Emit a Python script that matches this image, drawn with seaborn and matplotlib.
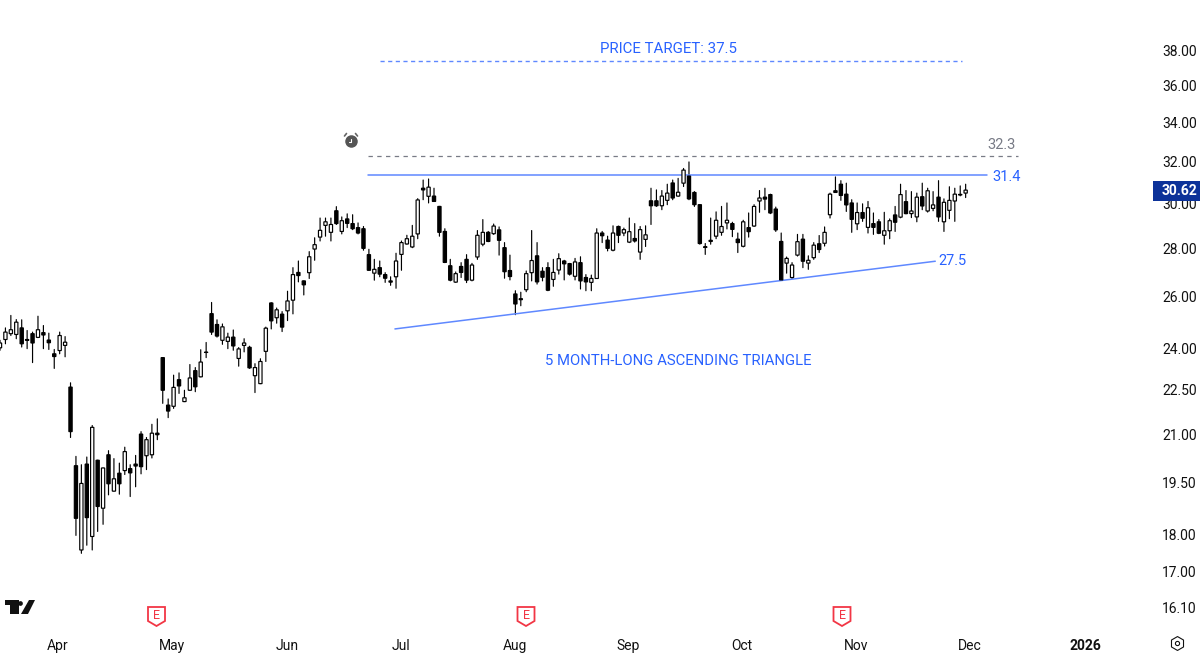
import numpy as np
import pandas as pd
import seaborn as sns
import matplotlib
matplotlib.use("Agg")
import matplotlib.pyplot as plt
from matplotlib.lines import Line2D
from matplotlib.patches import Polygon, Rectangle
from matplotlib.ticker import NullLocator

# daily prices
opens = [24.01,24.32,24.54,24.51,24.76,24.32,24.54,24.40,24.58,24.30,
         23.79,23.91,24.10,22.60,20.02,17.58,20.07,17.95,20.19,18.75,
         20.36,19.25,19.79,19.87,19.93,20.07,21.02,20.33,20.36,21.05,
         23.65,21.98,21.94,22.86,22.10,22.49,23.18,22.96,23.85,25.31,
         24.89,24.29,24.25,24.41,23.62,24.10,24.03,23.00,22.72,23.88,
         25.73,25.15,25.29,25.42,25.84,26.97,26.62,26.96,27.96,28.48,
         29.00,28.69,29.66,28.73,29.29,29.08,28.90,28.85,27.72,26.94,
         27.17,26.88,26.62,26.79,27.73,28.18,28.05,28.62,30.71,30.33,
         30.34,29.86,28.73,27.25,26.57,27.22,27.52,26.65,27.62,28.17,
         28.69,28.63,28.80,28.02,27.05,26.09,25.90,26.26,26.96,27.67,
         27.02,27.17,26.68,27.07,27.45,27.34,26.81,27.38,26.76,26.56,
         26.72,28.66,28.35,27.91,28.95,28.66,28.26,28.42,27.83,28.38,
         30.12,30.12,29.89,30.14,30.96,30.34,30.95,31.29,30.51,29.94,
         28.06,28.34,28.52,28.69,29.11,29.08,28.39,28.08,28.90,28.97,
         30.11,30.29,30.41,29.74,28.29,27.36,26.76,27.70,28.39,27.36,
         27.59,28.19,28.21,29.48,30.59,30.90,30.43,30.02,29.07,29.58,
         28.91,29.08,29.16,28.56,28.76,29.47,29.37,30.08,29.53,29.38,
         30.31,29.65,29.77,30.29,29.16,29.68,30.11,30.39,30.48]
highs = [24.29,24.76,25.24,25.08,25.07,24.66,24.60,25.21,24.85,24.56,
         23.95,24.60,24.43,22.75,20.31,20.05,20.29,21.30,20.19,19.95,
         20.49,20.24,20.10,20.60,20.05,20.34,21.10,20.91,21.34,21.52,
         23.65,22.19,23.02,23.10,22.49,23.40,23.29,23.94,24.21,25.75,
         25.07,24.91,24.56,24.68,24.02,24.35,24.07,23.43,23.61,24.79,
         25.74,25.53,25.39,26.20,27.17,27.45,26.62,27.85,28.45,29.33,
         29.33,29.33,29.85,29.38,29.52,29.48,29.11,28.95,27.95,27.52,
         27.45,26.96,26.79,27.78,28.31,28.56,29.00,30.22,31.10,31.15,
         30.71,29.86,28.85,27.52,26.99,27.38,27.72,27.35,28.77,29.26,
         28.73,29.06,28.93,28.24,27.70,26.22,26.16,27.03,28.77,28.24,
         27.17,27.38,27.52,27.76,27.48,27.35,27.56,27.63,26.88,26.86,
         28.85,28.73,28.52,28.98,28.97,28.88,29.33,29.08,28.95,28.98,
         30.71,30.63,30.60,30.90,31.10,31.18,31.66,31.98,30.55,29.94,
         28.20,29.33,29.61,29.86,30.02,29.14,28.66,29.23,29.56,29.94,
         30.60,30.71,30.43,29.83,28.66,27.62,27.38,28.60,28.60,27.67,
         28.24,28.55,28.93,30.48,31.25,31.07,30.95,30.17,30.02,29.98,
         30.09,29.56,29.26,29.59,29.29,29.86,30.90,30.60,30.55,30.48,
         30.95,30.71,30.55,31.07,30.21,30.78,30.71,30.82,30.90]
lows = [23.92,24.16,24.47,24.35,24.04,23.98,23.47,24.39,23.98,23.95,
        23.26,23.79,23.68,20.91,17.98,17.49,17.71,17.58,18.09,18.29,
        19.14,19.25,19.16,19.75,19.09,19.38,19.77,19.90,20.26,20.84,
        22.04,21.56,21.87,22.38,22.10,22.48,22.44,22.96,23.65,24.51,
        24.41,24.14,23.98,23.92,23.34,23.86,23.26,22.41,22.72,23.51,
        24.72,24.94,24.62,25.04,25.30,26.58,26.05,26.72,27.48,28.31,
        28.52,28.31,29.04,28.62,28.90,28.81,28.62,27.91,27.06,26.65,
        26.79,26.56,26.44,26.32,27.06,28.17,28.02,28.41,30.17,30.02,
        30.09,28.52,27.38,26.62,26.56,26.76,26.55,26.62,27.52,28.10,
        28.28,28.60,27.70,26.73,26.66,25.27,25.62,26.18,26.62,26.49,
        26.62,26.22,26.40,26.90,26.66,26.86,26.66,26.29,26.22,26.22,
        26.72,28.24,27.88,27.88,28.24,28.54,28.24,28.26,27.52,28.07,
        29.04,29.86,29.71,29.94,30.17,30.33,30.79,30.17,29.86,28.17,
        27.73,28.17,28.41,28.56,28.84,28.50,27.81,28.05,28.48,28.95,
        29.59,29.71,29.53,28.73,26.66,26.94,26.72,27.66,27.17,27.10,
        27.52,27.81,28.09,29.33,30.51,30.14,29.63,28.69,28.81,29.18,
        28.66,28.60,28.63,28.17,28.41,28.73,29.34,29.52,29.35,29.16,
        29.71,29.60,29.66,29.18,28.73,29.30,29.18,30.35,30.27]
closes = [24.19,24.60,24.69,24.98,24.16,24.29,24.19,24.69,24.49,24.20,
          23.69,24.47,24.22,21.10,18.46,19.48,18.48,21.24,18.80,19.95,
          19.47,19.62,19.47,20.46,19.80,20.01,19.99,20.84,21.05,21.00,
          22.49,21.78,22.59,22.64,22.23,22.92,22.61,23.49,23.84,24.60,
          24.45,24.80,24.41,24.08,23.97,24.19,23.28,23.29,23.51,24.75,
          25.03,25.46,24.79,25.81,26.88,26.84,26.46,27.63,28.15,28.78,
          29.16,29.04,29.08,29.21,29.09,28.85,28.66,27.99,27.06,27.10,
          26.90,26.73,26.57,27.45,28.24,28.41,28.52,30.16,30.63,30.76,
          30.09,28.69,27.39,26.65,26.92,26.97,26.65,27.28,28.56,28.69,
          28.29,28.97,28.34,27.00,26.80,25.69,25.86,26.92,27.47,26.58,
          26.77,26.24,26.97,27.55,27.33,26.90,27.41,26.62,26.58,26.72,
          28.66,28.54,27.99,28.66,28.56,28.81,28.72,28.31,28.81,28.58,
          29.89,29.89,30.34,30.48,30.25,30.52,31.58,30.21,29.94,28.20,
          28.03,28.29,29.23,28.95,29.23,28.82,28.24,29.16,28.72,29.86,
          30.25,30.20,29.56,28.80,26.66,27.56,27.28,28.28,27.44,27.48,
          28.13,27.94,28.69,30.43,30.51,30.37,29.93,29.27,29.58,29.32,
          29.80,28.91,28.65,28.76,29.21,29.14,30.41,29.53,29.65,30.29,
          29.88,30.59,29.93,29.38,30.05,30.14,30.43,30.42,30.62]

price_ticks = [38, 36, 34, 32, 30, 28, 26, 24, 22.5, 21, 19.5, 18, 17, 16.1]
month_labels = ["Apr", "May", "Jun", "Jul", "Aug", "Sep", "Oct", "Nov", "Dec", "2026"]
month_pos = [10.7, 31.7, 52.9, 73.9, 94.9, 115.8, 136.8, 157.8, 178.8, 200.0]

target_price = 37.36
resistance_high = 32.27
resistance = 31.35
support_start = (72.8, 24.72)
support_end = (172.4, 27.44)
last_price = 30.62

BLUE = "#2962ff"
LINE_BLUE = "#5f88ff"
GREY = "#787b86"
INK = "#111111"
RED = "#f23645"

sns.set_theme(style="white")
plt.rcParams["font.family"] = ["Roboto", "DejaVu Sans"]

df = pd.DataFrame({"open": opens, "high": highs, "low": lows, "close": closes})
df["idx"] = np.arange(len(df))
df["top"] = df[["open", "close"]].max(axis=1)
df["bottom"] = df[["open", "close"]].min(axis=1)
df["height"] = df["top"] - df["bottom"]
wicks = df.melt(id_vars="idx", value_vars=["high", "low"], value_name="price")

fig = plt.figure(figsize=(12, 6.55), dpi=100)
ax = fig.add_axes([0, 30 / 655, 1155 / 1200, 625 / 655])

def px(x, y):
    return x / 1200, 1 - y / 655

# wicks then bodies
sns.lineplot(data=wicks, x="idx", y="price", units="idx", estimator=None,
             color="black", linewidth=0.85, ax=ax, legend=False)
up = df[df["close"] >= df["open"]]
down = df[df["close"] < df["open"]]
sns.barplot(data=up, x="idx", y="height", bottom=up["bottom"].values, native_scale=True,
            color="white", saturation=1, width=0.6, edgecolor="black", linewidth=0.85,
            errorbar=None, zorder=3, ax=ax)
sns.barplot(data=down, x="idx", y="height", bottom=down["bottom"].values, native_scale=True,
            color="black", saturation=1, width=0.6, edgecolor="black", linewidth=0.85,
            errorbar=None, zorder=3, ax=ax)

# no pixel snapping, so bodies sit centred on their wicks
for artist in list(ax.patches) + list(ax.lines):
    artist.set_snap(False)

ax.set_yscale("log")
ax.set_xlim(0, 1155 / 5.425)
ax.set_ylim(15.66, 41.05)
ax.set_xlabel("")
ax.set_ylabel("")
sns.despine(ax=ax, left=True, bottom=True, right=True, top=True)
ax.yaxis.tick_right()
ax.yaxis.set_minor_locator(NullLocator())
ax.set_yticks(price_ticks)
ax.set_yticklabels([f"{p:.2f}" for p in price_ticks], fontsize=10, color=INK)
ax.set_xticks(month_pos)
ax.set_xticklabels(month_labels, fontsize=10, color=INK)
ax.get_xticklabels()[-1].set_fontweight("bold")
ax.tick_params(axis="y", length=0, pad=5)
ax.tick_params(axis="x", length=0, pad=10)
ax.grid(False)

# drawn levels
ax.plot([70, 177.3], [target_price, target_price], color=LINE_BLUE, lw=1, dashes=(3, 2.5))
ax.plot([67.8, 187.6], [resistance_high, resistance_high], color=GREY, lw=0.9, dashes=(3.5, 3.5))
ax.plot([67.8, 182], [resistance, resistance], color=LINE_BLUE, lw=1.1)
ax.plot([support_start[0], support_end[0]], [support_start[1], support_end[1]], color=LINE_BLUE, lw=1.1)

ax.text(123.3, 38.08, "PRICE TARGET: 37.5", color=BLUE, fontsize=10.8, ha="center", va="center")
ax.text(125, 23.53, "5 MONTH-LONG ASCENDING TRIANGLE", color=BLUE, fontsize=10.7, ha="center", va="center")
ax.text(184.6, 32.85, "32.3", color=GREY, fontsize=10.5, ha="center", va="center")
ax.text(185.6, 31.26, "31.4", color=BLUE, fontsize=10.5, ha="center", va="center")
ax.text(175.5, 27.47, "27.5", color=BLUE, fontsize=10.5, ha="center", va="center")

# last price badge on the axis
fig.add_artist(Rectangle(px(1153, 201), 47 / 1200, 20 / 655, transform=fig.transFigure,
                         facecolor="#0c3299", edgecolor="none"))
fig.text(*px(1162, 191), f"{last_price:.2f}", color="white", fontsize=10, fontweight="bold",
         ha="left", va="center")

# earnings flags
for cx in [156.5, 526, 842]:
    shield = [px(cx - 8.5, 607), px(cx + 8.5, 607), px(cx + 8.5, 621), px(cx, 626), px(cx - 8.5, 621)]
    fig.add_artist(Polygon(shield, closed=True, transform=fig.transFigure,
                           facecolor="white", edgecolor=RED, linewidth=1.3))
    fig.text(*px(cx, 615.5), "E", color=RED, fontsize=9, ha="center", va="center")

# TradingView logo
logo_t = [px(5, 600), px(18.5, 600), px(18.5, 614), px(10, 614), px(10, 604.5), px(5, 604.5)]
logo_v = [px(29, 600), px(35, 600), px(28, 614), px(21, 614)]
fig.add_artist(Polygon(logo_t, closed=True, transform=fig.transFigure, facecolor=INK, edgecolor="none"))
fig.add_artist(Polygon(logo_v, closed=True, transform=fig.transFigure, facecolor=INK, edgecolor="none"))
fig.add_artist(Line2D(*zip(px(19.8, 602.5)), marker="o", ms=3.4, mfc=INK, mec="none",
                      transform=fig.transFigure))

# alarm clock icon
fig.add_artist(Line2D(*zip(px(351, 140.5)), marker="o", ms=9, mfc="#555555", mec="none",
                      transform=fig.transFigure))
fig.add_artist(Line2D(*zip(px(351, 138.5), px(351, 141.5), px(348.5, 141.5)), color="white", lw=0.8,
                      transform=fig.transFigure))
fig.add_artist(Line2D(*zip(px(344.5, 136), px(346.5, 133.5)), color="#666666", lw=1.2,
                      transform=fig.transFigure))
fig.add_artist(Line2D(*zip(px(355.5, 133.5), px(357.5, 136)), color="#666666", lw=1.2,
                      transform=fig.transFigure))

# settings icon, bottom right
fig.add_artist(Line2D(*zip(px(1177, 643)), marker="h", ms=10, mfc="none", mec=INK, mew=0.8,
                      transform=fig.transFigure))
fig.add_artist(Line2D(*zip(px(1177, 643)), marker="o", ms=3, mfc="none", mec=INK, mew=0.8,
                      transform=fig.transFigure))

fig.savefig("out.png", dpi=100, facecolor="white")
